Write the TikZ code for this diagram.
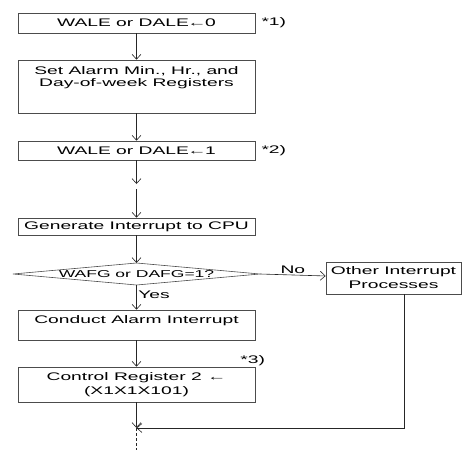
\documentclass[tikz,border=0pt]{standalone}
\usepackage{fontspec}
\setmainfont{Liberation Sans}[FakeStretch=1.75]
\usetikzlibrary{arrows.meta}
\usetikzlibrary{positioning, calc}
\tikzset{
	flowbox/.style={draw=black!70, line width=0.6pt, minimum width=237pt, inner sep=0pt, align=center},
	flowline/.style={draw=black!85, line width=0.6pt, -{Straight Barb[length=5pt, width=9pt]}},
	plainline/.style={draw=black!85, line width=0.6pt},
	note/.style={inner sep=0pt},
}
\newcommand{\setto}{\kern-1.5pt←\kern-1.5pt}

\begin{document}
\begin{tikzpicture}[x=1pt, y=-1pt, font=\fontsize{11}{14}\selectfont]
	\useasboundingbox (0,0) rectangle (464,450);
	
	% main column of boxes
	\node[flowbox, minimum height=20pt] (clr) at (136.5,23) {WALE or DALE\setto0};
	\node[flowbox, minimum height=53pt, text height=20.5pt, text depth=20.5pt, font=\fontsize{11}{12.5}\selectfont]
		(setreg) at (136.5,86.5) {Set Alarm Min., Hr., and\\Day-of-week Registers};
	\node[flowbox, minimum height=19pt] (enable) at (136.5,150.5) {WALE or DALE\setto1};
	\node[flowbox, minimum height=17pt] (irq) at (136.5,226.5) {Generate Interrupt to CPU};
	\node[flowbox, minimum height=30pt, text height=8pt, text depth=12pt] (alarm) at (136.5,325) {Conduct Alarm Interrupt};
	\node[flowbox, minimum height=35pt] (ctrl) at (136.5,384.5) {Control Register 2 ←\\(X1X1X101)};
	\node[flowbox, minimum width=135pt, minimum height=32pt] (other) at (393.5,278) {Other Interrupt\\Processes};
	
	% side notes
	\node[note, right=6pt of clr] (note1) {*1)};
	\node[note, right=6pt of enable] (note2) {*2)};
	\node[note, anchor=south] (note3) at ($(ctrl.north east)+(-2.5,-0.5)$) {*3)};
	
	% decision
	\coordinate (dtop) at (136.5,263);
	\coordinate (dbot) at (136.5,285);
	\coordinate (dleft) at (13,274);
	\coordinate (dright) at (260,274);
	\draw[plainline, draw=black!70] (dtop) -- (dright) -- (dbot) -- (dleft) -- cycle;
	\node[note, font=\fontsize{10}{12}\selectfont] (test) at (136.5,274) {WAFG or DAFG=1?};
	
	% break in the flow and the common exit
	\coordinate (brk1) at (136.5,184);
	\coordinate (brk2) at (136.5,189);
	\coordinate (join) at (136.5,428);
	\coordinate (exit) at (136.5,450);
	
	\draw[flowline] (clr) -- (setreg);
	\draw[flowline] (setreg) -- (enable);
	\draw[flowline] (enable) -- (brk1);
	\draw[flowline] (brk2) -- (irq);
	\draw[flowline] (irq) -- (dtop);
	\draw[flowline] (dbot) -- node[right, inner sep=1.5pt, pos=0.4] (yes) {Yes} (alarm);
	\draw[flowline] (dright) -- node[above, inner sep=1.5pt] (no) {No} (other);
	\draw[flowline] (alarm) -- (ctrl);
	\draw[flowline] (ctrl) -- (join);
	\draw[flowline] ($(other.south)+(10.5,0)$) |- (join);
	\draw[plainline, dash pattern=on 3pt off 2pt] (join) -- (exit);
\end{tikzpicture}
\end{document}
